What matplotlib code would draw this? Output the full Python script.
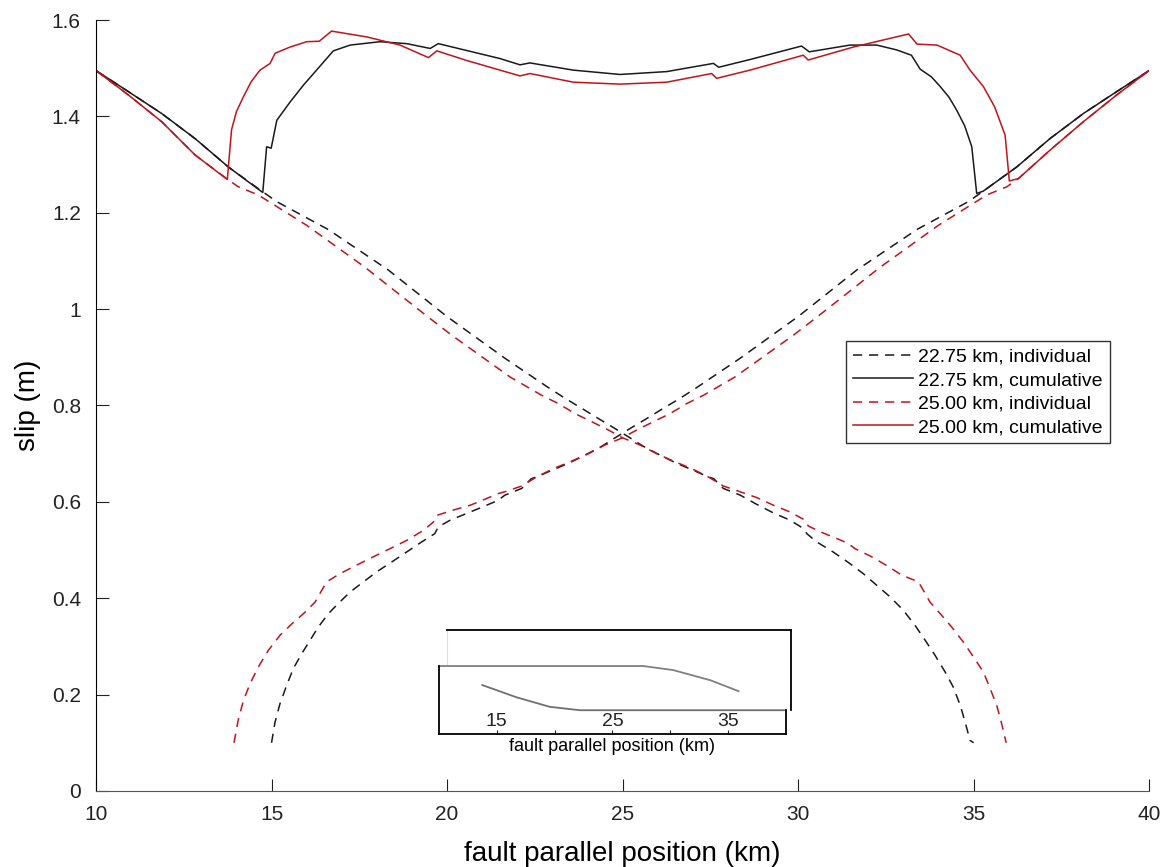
import numpy as np
import matplotlib
matplotlib.use('Agg')
import matplotlib.pyplot as plt
from matplotlib.ticker import FormatStrFormatter

plt.rcParams['font.family'] = ['Liberation Sans', 'DejaVu Sans']

# 22.75 km, individual (two events, left and right)
x_k22_a = [10.0, 10.93, 11.87, 12.82, 13.77, 14.72, 15.15, 16.62, 18.33, 19.99, 21.65, 22.89,
           23.36, 23.84, 24.31, 24.79, 25.21, 25.6, 26.07, 26.54, 27.0, 27.44, 27.6, 27.87,
           28.35, 28.82, 29.3, 29.77, 30.15, 30.25, 30.53, 31.0, 31.42, 31.86, 32.24, 32.62,
           33.0, 33.33, 33.62, 33.9, 34.19, 34.42, 34.62, 34.76, 34.9, 35.0]
y_k22_a = [1.495, 1.451, 1.406, 1.354, 1.295, 1.245, 1.223, 1.165, 1.081, 0.985, 0.898, 0.837,
           0.815, 0.794, 0.773, 0.752, 0.733, 0.715, 0.697, 0.68, 0.666, 0.652, 0.648, 0.628,
           0.614, 0.595, 0.577, 0.562, 0.545, 0.534, 0.517, 0.496, 0.475, 0.451, 0.427, 0.403,
           0.375, 0.344, 0.313, 0.282, 0.247, 0.216, 0.178, 0.143, 0.105, 0.10]
x_k22_b = [15.0, 15.1, 15.24, 15.43, 15.62, 15.86, 16.1, 16.33, 16.62, 16.9, 17.24, 17.62,
           18.0, 18.42, 18.85, 19.28, 19.65, 19.75, 20.09, 20.56, 21.03, 21.45, 21.65, 22.13,
           22.4, 22.56, 23.0, 23.46, 23.93, 24.4, 24.79, 25.21, 25.69, 26.16, 26.64, 27.11,
           28.35, 30.01, 31.67, 33.38, 34.85, 35.28, 36.23, 37.18, 38.13, 39.07, 40.0]
y_k22_b = [0.10, 0.143, 0.181, 0.219, 0.254, 0.285, 0.313, 0.34, 0.368, 0.389, 0.413, 0.434,
           0.455, 0.475, 0.496, 0.517, 0.534, 0.548, 0.562, 0.576, 0.59, 0.603, 0.614, 0.628,
           0.648, 0.652, 0.666, 0.68, 0.697, 0.715, 0.733, 0.752, 0.773, 0.794, 0.815, 0.837,
           0.898, 0.985, 1.081, 1.165, 1.223, 1.245, 1.295, 1.354, 1.406, 1.451, 1.495]

# 25.00 km, individual
x_k25_a = [10.0, 10.93, 11.87, 12.82, 13.72, 14.05, 14.62, 16.0, 17.66, 19.33, 20.13, 21.8,
           22.7, 23.17, 23.65, 24.13, 24.6, 25.0, 25.5, 25.97, 26.5, 26.97, 27.44, 27.87,
           28.35, 28.82, 29.3, 29.77, 30.2, 30.29, 30.63, 31.1, 31.42, 31.62, 32.1, 32.57,
           32.95, 33.43, 33.62, 33.76, 34.05, 34.38, 34.71, 35.0, 35.28, 35.47, 35.66, 35.8, 35.93]
y_k25_a = [1.495, 1.444, 1.389, 1.32, 1.271, 1.254, 1.237, 1.174, 1.087, 0.991, 0.946, 0.859,
           0.821, 0.804, 0.783, 0.766, 0.749, 0.733, 0.718, 0.70, 0.683, 0.669, 0.652, 0.633,
           0.621, 0.609, 0.593, 0.579, 0.562, 0.55, 0.538, 0.524, 0.514, 0.503, 0.486, 0.466,
           0.448, 0.434, 0.41, 0.392, 0.368, 0.34, 0.309, 0.278, 0.247, 0.213, 0.178, 0.14, 0.10]
x_k25_b = [13.93, 14.05, 14.2, 14.39, 14.62, 14.91, 15.24, 15.58, 15.91, 16.24, 16.38, 16.57,
           16.95, 17.43, 17.9, 18.38, 18.85, 19.33, 19.61, 19.71, 20.18, 20.66, 21.13, 21.45,
           21.65, 22.13, 22.56, 23.03, 23.5, 24.03, 24.5, 25.0, 25.4, 25.87, 26.35, 26.83,
           27.3, 28.2, 29.87, 30.67, 32.34, 34.0, 35.38, 35.95, 36.28, 37.18, 38.13, 39.07, 40.0]
y_k25_b = [0.10, 0.147, 0.188, 0.223, 0.257, 0.292, 0.323, 0.347, 0.368, 0.392, 0.41, 0.434,
           0.451, 0.469, 0.486, 0.503, 0.52, 0.541, 0.558, 0.572, 0.583, 0.593, 0.607, 0.617,
           0.621, 0.633, 0.652, 0.669, 0.683, 0.70, 0.718, 0.733, 0.749, 0.766, 0.783, 0.804,
           0.821, 0.859, 0.946, 0.991, 1.087, 1.174, 1.237, 1.254, 1.271, 1.33, 1.389, 1.444, 1.495]

# cumulative
x_k22_cum = [10.0, 10.93, 11.87, 12.82, 13.77, 14.75, 14.86, 14.99, 15.15, 15.53, 15.91, 16.33,
             16.76, 17.24, 18.09, 18.85, 19.52, 19.75, 21.51, 22.08, 22.36, 23.6, 24.93, 26.26,
             27.59, 27.74, 28.63, 30.1, 30.32, 31.48, 32.24, 32.81, 33.23, 33.48, 33.8, 34.05,
             34.3, 34.52, 34.75, 34.95, 35.09, 35.28, 36.23, 37.18, 38.13, 39.07, 40.0]
y_k22_cum = [1.495, 1.451, 1.406, 1.354, 1.295, 1.242, 1.337, 1.334, 1.392, 1.43, 1.465, 1.50,
             1.536, 1.548, 1.555, 1.551, 1.541, 1.551, 1.52, 1.507, 1.511, 1.496, 1.487, 1.493,
             1.51, 1.502, 1.518, 1.546, 1.534, 1.548, 1.548, 1.538, 1.527, 1.498, 1.482, 1.462,
             1.44, 1.413, 1.38, 1.337, 1.24, 1.245, 1.295, 1.354, 1.406, 1.451, 1.495]
x_k25_cum = [10.0, 10.93, 11.87, 12.82, 13.74, 13.86, 14.0, 14.2, 14.42, 14.67, 14.96, 15.1,
             15.53, 16.0, 16.36, 16.71, 17.71, 18.66, 19.47, 19.71, 20.56, 21.51, 22.08, 22.36,
             23.6, 24.93, 26.26, 27.54, 27.68, 28.63, 30.15, 30.29, 31.58, 33.15, 33.39, 33.96,
             34.62, 34.9, 35.28, 35.6, 35.9, 36.02, 36.28, 37.18, 38.13, 39.07, 40.0]
y_k25_cum = [1.495, 1.444, 1.389, 1.32, 1.269, 1.372, 1.41, 1.441, 1.472, 1.496, 1.51, 1.531,
             1.544, 1.555, 1.556, 1.577, 1.565, 1.548, 1.522, 1.536, 1.516, 1.496, 1.484, 1.489,
             1.471, 1.467, 1.471, 1.489, 1.479, 1.496, 1.527, 1.517, 1.544, 1.571, 1.55, 1.548,
             1.527, 1.496, 1.462, 1.42, 1.361, 1.266, 1.271, 1.33, 1.389, 1.444, 1.495]

# small inset (gray traces)
x_in_a = [10.0, 27.65, 30.26, 33.48, 35.9]
y_in_a = [1.0, 1.0, 0.94, 0.79, 0.63]
x_in_b = [13.74, 16.7, 19.57, 22.17, 39.83]
y_in_b = [0.72, 0.54, 0.40, 0.35, 0.35]

red = '#c0141c'
blk = '#1a1a1a'
dash = (6, 4.5)

fig = plt.figure(figsize=(11.67, 8.67), dpi=100)
ax = fig.add_axes([0.0823, 0.0877, 0.9023, 0.8892])

ax.plot(x_k22_a, y_k22_a, color=blk, lw=1.1, dashes=dash, label='22.75 km, individual')
ax.plot(x_k22_b, y_k22_b, color=blk, lw=1.1, dashes=dash)
ax.plot(x_k22_cum, y_k22_cum, color=blk, lw=1.1, label='22.75 km, cumulative')
ax.plot(x_k25_a, y_k25_a, color=red, lw=1.1, dashes=dash, label='25.00 km, individual')
ax.plot(x_k25_b, y_k25_b, color=red, lw=1.1, dashes=dash)
ax.plot(x_k25_cum, y_k25_cum, color=red, lw=1.1, label='25.00 km, cumulative')

ax.set_xlim(10, 40)
ax.set_ylim(0, 1.6)
ax.set_xticks([10, 15, 20, 25, 30, 35, 40])
ax.set_yticks(np.arange(0, 1.61, 0.2))
ax.yaxis.set_major_formatter(FormatStrFormatter('%g'))
ax.spines['top'].set_visible(False)
ax.spines['right'].set_visible(False)
ax.spines['bottom'].set_color('#555555')
ax.tick_params(direction='in', length=9, width=0.8, labelsize=15, colors='#222222')
ax.tick_params(axis='x', pad=10)
ax.tick_params(axis='y', pad=11)
ax.set_xlabel('fault parallel position (km)', fontsize=20, labelpad=12)
ax.set_ylabel('slip (m)', fontsize=20, labelpad=8)

leg = ax.legend(loc='upper left', bbox_to_anchor=(0.712, 0.584), fontsize=14,
                frameon=True, fancybox=False, edgecolor='black', handlelength=3.1,
                handletextpad=0.25, borderpad=0.38, labelspacing=0.3, borderaxespad=0)
leg.get_frame().set_linewidth(1.0)

# ghost box behind the inset
ax_box = fig.add_axes([0.383, 0.1811, 0.2948, 0.0923])
ax_box.patch.set_alpha(0)
ax_box.set_xticks([])
ax_box.set_yticks([])
ax_box.set_ylim(0, 1)
ax_box.spines['bottom'].set_visible(False)
ax_box.spines['left'].set_color('#dddddd')
ax_box.spines['left'].set_bounds(0.55, 1)
ax_box.spines['top'].set_linewidth(1.3)
ax_box.spines['right'].set_linewidth(1.3)

# inset
ax_in = fig.add_axes([0.3762, 0.1534, 0.2973, 0.0784])
ax_in.patch.set_alpha(0)
ax_in.plot(x_in_a, y_in_a, color='#808080', lw=1.3, clip_on=False)
ax_in.plot(x_in_b, y_in_b, color='#707070', lw=1.3, clip_on=False)
ax_in.set_xlim(10, 40)
ax_in.set_ylim(0, 1)
ax_in.set_yticks([])
ax_in.set_xticks([15, 20, 25, 30, 35])
ax_in.set_xticklabels(['15', '', '25', '', '35'])
ax_in.tick_params(axis='x', direction='in', length=3, pad=-15, labelsize=14, colors='#222222')
ax_in.spines['top'].set_visible(False)
ax_in.spines['right'].set_bounds(0, 0.35)
for s in ['left', 'bottom', 'right']:
    ax_in.spines[s].set_linewidth(1.3)
ax_in.set_xlabel('fault parallel position (km)', fontsize=13, labelpad=3)

fig.savefig('out.png', dpi=100)
